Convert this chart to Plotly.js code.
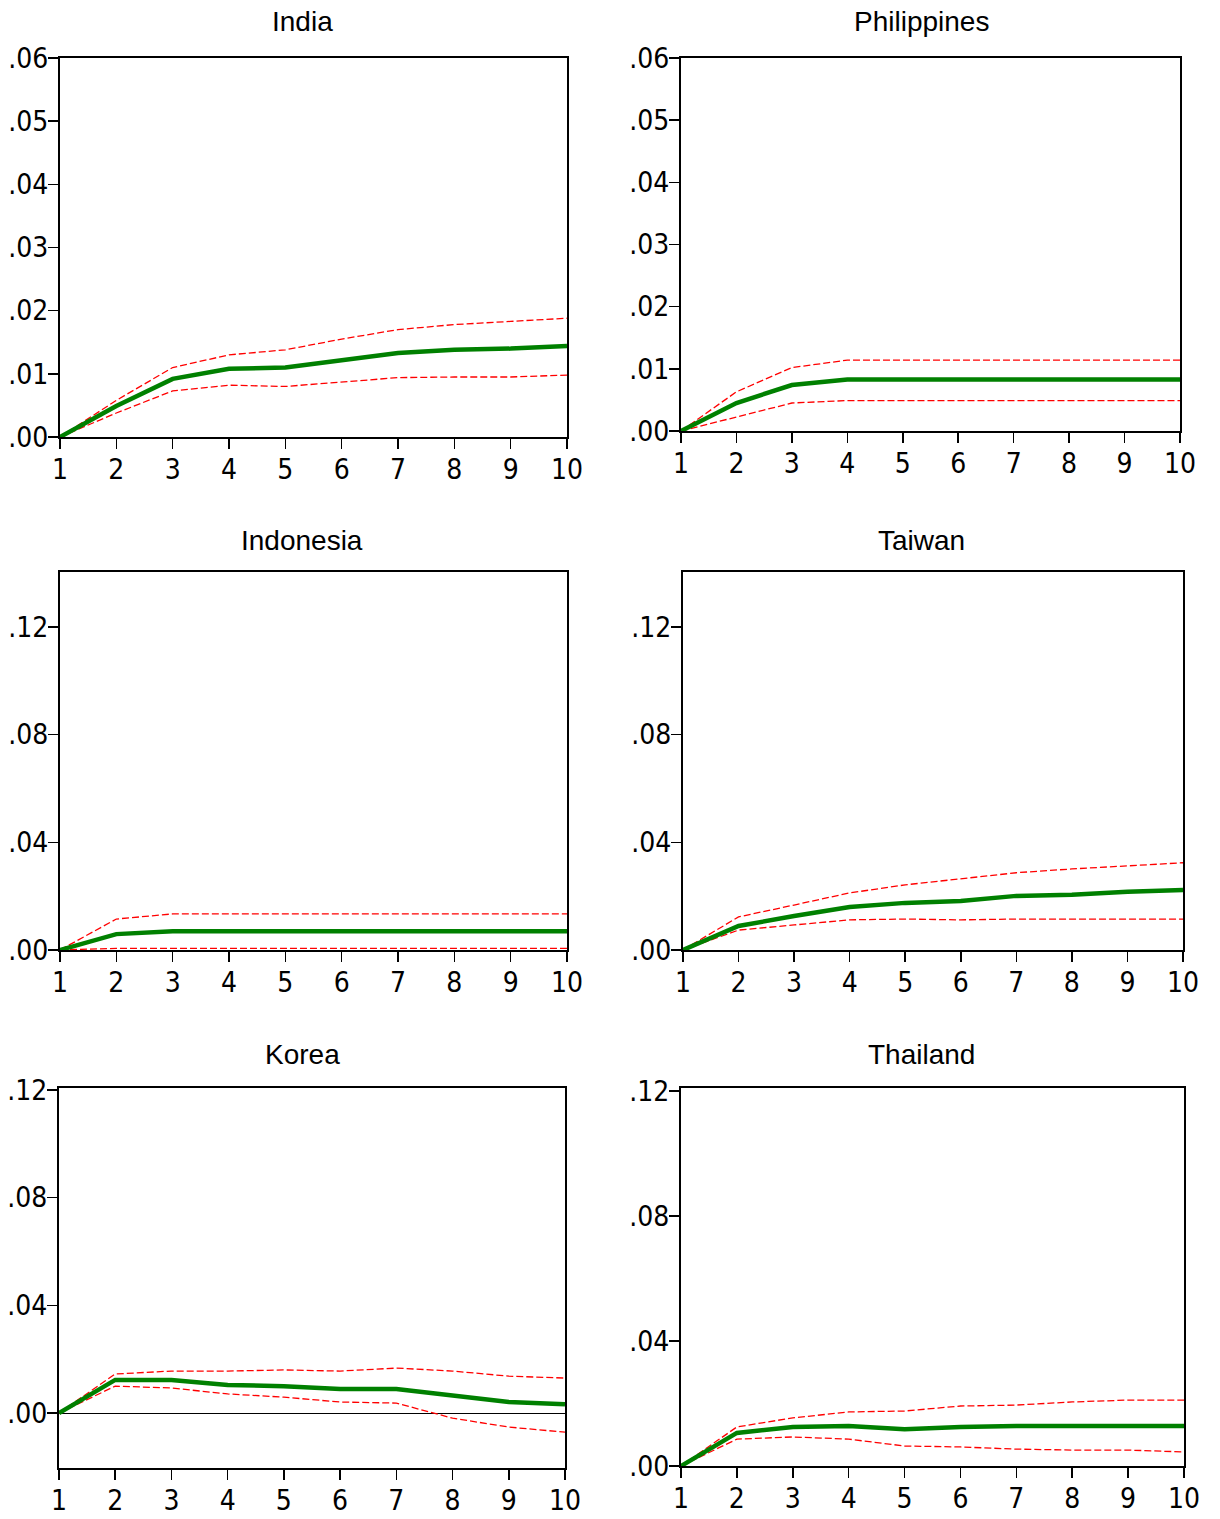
<!DOCTYPE html>
<html>
<head>
<meta charset="utf-8">
<script src="https://cdn.plot.ly/plotly-3.0.1.min.js"></script>
<style>
html,body{margin:0;padding:0;background:#fff;}
#chart{width:1220px;height:1519px;}
</style>
</head>
<body>
<div id="chart"></div>
<script>
// Horizons
const periods = [1,2,3,4,5,6,7,8,9,10];

// Panel titles
const countries = ["India","Philippines","Indonesia","Taiwan","Korea","Thailand"];

// Responses (mean) and confidence bands
const indiaMid = [0,0.0049,0.0092,0.0108,0.0110,0.0121,0.0133,0.0138,0.0140,0.0144];
const indiaUp  = [0,0.0058,0.0110,0.0130,0.0138,0.0155,0.0170,0.0178,0.0183,0.0188];
const indiaLo  = [0,0.0038,0.0073,0.0082,0.0080,0.0087,0.0094,0.0095,0.0095,0.0098];

const philMid = [0,0.0045,0.0074,0.0083,0.0083,0.0083,0.0083,0.0083,0.0083,0.0083];
const philUp  = [0,0.0063,0.0102,0.0114,0.0114,0.0114,0.0114,0.0114,0.0114,0.0114];
const philLo  = [0,0.0023,0.0045,0.0049,0.0049,0.0049,0.0049,0.0049,0.0049,0.0049];

const indoMid = [0,0.0059,0.0070,0.0070,0.0070,0.0070,0.0070,0.0070,0.0070,0.0070];
const indoUp  = [0,0.0115,0.0134,0.0134,0.0134,0.0134,0.0134,0.0134,0.0134,0.0134];
const indoLo  = [0,0.0006,0.0006,0.0006,0.0006,0.0006,0.0006,0.0006,0.0006,0.0006];

const taiwanMid = [0,0.0089,0.0126,0.0160,0.0175,0.0182,0.0201,0.0205,0.0216,0.0223];
const taiwanUp  = [0,0.0123,0.0167,0.0212,0.0242,0.0264,0.0287,0.0301,0.0313,0.0324];
const taiwanLo  = [0,0.0074,0.0093,0.0112,0.0115,0.0112,0.0115,0.0115,0.0115,0.0115];

const koreaMid = [0,0.0123,0.0123,0.0104,0.0100,0.0089,0.0089,0.0067,0.0041,0.0033];
const koreaUp  = [0,0.0145,0.0156,0.0156,0.0160,0.0156,0.0167,0.0156,0.0137,0.0130];
const koreaLo  = [0,0.0100,0.0093,0.0071,0.0059,0.0041,0.0037,-0.0019,-0.0052,-0.0071];

const thaiMid = [0,0.0106,0.0125,0.0128,0.0118,0.0125,0.0128,0.0128,0.0128,0.0128];
const thaiUp  = [0,0.0125,0.0154,0.0173,0.0176,0.0192,0.0195,0.0205,0.0211,0.0211];
const thaiLo  = [0,0.0086,0.0093,0.0086,0.0064,0.0061,0.0054,0.0051,0.0051,0.0045];

// Tick labels
const yTickValsA = [0,0.01,0.02,0.03,0.04,0.05,0.06];
const yTickTextA = [".00",".01",".02",".03",".04",".05",".06"];
const yTickValsB = [0,0.04,0.08,0.12];
const yTickTextB = [".00",".04",".08",".12"];
const xTickText = ["1","2","3","4","5","6","7","8","9","10"];

const series = [
  [indiaMid, indiaUp, indiaLo],
  [philMid, philUp, philLo],
  [indoMid, indoUp, indoLo],
  [taiwanMid, taiwanUp, taiwanLo],
  [koreaMid, koreaUp, koreaLo],
  [thaiMid, thaiUp, thaiLo]
];

const W = 1220, H = 1519;
// pixel boxes [left, right, top, bottom]
const boxes = [
  [60,567,58,437],
  [681,1180,58,431],
  [60,567,572,950],
  [683,1183,572,950],
  [59,565,1088,1468],
  [681,1184,1088,1466]
];
const yRanges = [[0,0.06],[0,0.06],[0,0.1404],[0,0.1404],[-0.0204,0.1207],[0,0.121]];
const yTicks = [[yTickValsA,yTickTextA],[yTickValsA,yTickTextA],[yTickValsB,yTickTextB],[yTickValsB,yTickTextB],[yTickValsB,yTickTextB],[yTickValsB,yTickTextB]];
const titleY = [21,21,540,540,1054,1054];
const titleX = [302,921,302,921,302,921];

const tickFont = {family:"Liberation Sans Narrow, DejaVu Sans Condensed, Arial Narrow, sans-serif", size:28, color:"#000"};

const data = [];
const layout = {
  width: W, height: H,
  margin:{l:0,r:0,t:0,b:0},
  paper_bgcolor:"#fff", plot_bgcolor:"#fff",
  showlegend:false,
  annotations:[]
};

for (let i=0;i<6;i++){
  const n = i+1;
  const xa = "xaxis"+(n===1?"":n), ya = "yaxis"+(n===1?"":n);
  const xr = "x"+(n===1?"":n), yr = "y"+(n===1?"":n);
  const [l,r,t,b] = boxes[i];
  const [mid,up,lo] = series[i];
  data.push({x:periods,y:up,xaxis:xr,yaxis:yr,mode:"lines",line:{color:"#ff0000",width:1.3,dash:"7px,3px"},hoverinfo:"skip"});
  data.push({x:periods,y:lo,xaxis:xr,yaxis:yr,mode:"lines",line:{color:"#ff0000",width:1.3,dash:"7px,3px"},hoverinfo:"skip"});
  data.push({x:periods,y:mid,xaxis:xr,yaxis:yr,mode:"lines",line:{color:"#008000",width:4.5},hoverinfo:"skip"});
  layout[xa] = {
    domain:[l/W, r/W], anchor:yr, range:[1,10],
    tickvals:periods, ticktext:xTickText,
    ticks:"outside", ticklen:10, tickwidth:1.5, tickcolor:"#000",
    showline:true, linecolor:"#000", linewidth:2, mirror:true,
    showgrid:false, zeroline:false, tickfont:tickFont, ticklabelstandoff:-4
  };
  layout[ya] = {
    domain:[1-b/H, 1-t/H], anchor:xr, range:yRanges[i],
    tickvals:yTicks[i][0], ticktext:yTicks[i][1],
    ticks:"outside", ticklen:10, tickwidth:1.5, tickcolor:"#000",
    showline:true, linecolor:"#000", linewidth:2, mirror:true,
    showgrid:false, zeroline:(i===4), zerolinecolor:"#000", zerolinewidth:1,
    tickfont:tickFont, ticklabelstandoff:-6
  };
  layout.annotations.push({
    text:countries[i], xref:"paper", yref:"paper",
    x:titleX[i]/W, y:1-titleY[i]/H, xanchor:"center", yanchor:"middle",
    showarrow:false, font:{family:"Liberation Sans, Arial, sans-serif", size:28, color:"#000"}
  });
}

Plotly.newPlot("chart", data, layout, {staticPlot:true});
</script>
</body>
</html>
